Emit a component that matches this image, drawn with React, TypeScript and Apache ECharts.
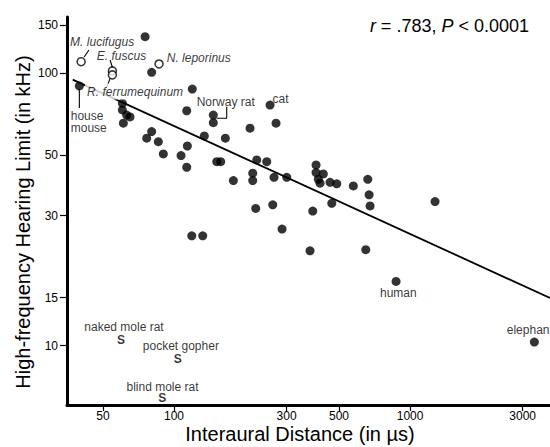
import React, { useEffect, useRef } from "react";
import * as echarts from "echarts";

// axis ticks (µs on x, kHz on y)
const X_TICKS = [50, 100, 300, 500, 1000, 3000];
const Y_TICKS = [10, 15, 30, 50, 100, 150];
const X_RANGE = [35.2, 3917];
const Y_RANGE = [6.05, 161.1];

// unlabelled terrestrial mammals: interaural distance (µs) / high-frequency limit (kHz)
const otherX = [75.4, 80.4, 119.5, 60.4, 60.4, 63.0, 65.1, 61.0, 113.2, 209.9, 134.4, 165.0, 76.6, 80.4, 85.8, 113.9, 90.1, 107.1, 270.5, 113.2, 151.7, 157.7, 178.4, 215.5, 215.5, 224.1, 247.1, 265.3, 221.9, 262.0, 286.9, 118.9, 132.3, 300.3, 399.7, 399.7, 429.1, 408.7, 415.6, 458.2, 489.2, 575.1, 662.0, 670.6, 677.1, 465.9, 387.0, 376.9, 649.2, 1276];
const otherY = [136.4, 100.9, 87.6, 77.6, 73.4, 70.3, 69.2, 65.6, 72.9, 62.9, 58.9, 57.8, 57.8, 61.1, 56.1, 54.1, 50.6, 49.9, 65.6, 45.2, 47.4, 47.4, 40.4, 43.0, 40.4, 48.1, 47.4, 41.5, 31.9, 32.9, 26.8, 25.3, 25.3, 41.5, 46.1, 43.2, 42.7, 40.8, 39.5, 39.8, 39.3, 38.6, 40.8, 35.8, 32.6, 33.3, 31.2, 22.3, 22.5, 33.8];

// labelled terrestrial mammals
const namedNames = ["house\nmouse", "Norway rat", "", "cat", "human", "elephant"];
const namedX = [39.7, 146.7, 146.7, 255.2, 872.5, 3363];
const namedY = [89.9, 70.3, 65.9, 76.5, 17.2, 10.3];

// bats (open circles)
const batNames = ["M. lucifugus", "E. fuscus", "R. ferrumequinum", "N. leporinus"];
const batX = [40.4, 54.8, 54.8, 86.4];
const batY = [110.4, 102.1, 98.7, 108.3];

// subterranean mammals (S)
const subNames = ["naked mole rat", "pocket gopher", "blind mole rat"];
const subX = [59.6, 103.7, 89.2];
const subY = [10.5, 8.9, 6.4];

// regression line endpoints
const fitX = [37.2, 3917];
const fitY = [94.9, 14.96];

// leader lines (µs, kHz)
const leaderLines = [
  [[41.6, 114.9], [43.6, 121.9]],
  [[54.9, 104.7], [53.6, 112.0]],
  [[53.6, 95.9], [51.9, 88.9]],
  [[39.7, 87.6], [39.7, 74.6]],
  [[151.7, 68.4], [167.2, 68.4], [167.2, 75.4]],
];

const FONT = "Liberation Sans, Arial, Helvetica, sans-serif";
const lg = (v: number) => Math.log10(v);
const pt = (x: number, y: number) => [lg(x), lg(y)];
const fmt = (v: number) => String(Math.round(Math.pow(10, v)));

// label placement: [align, dx, dy]
const namedLabelPos: any[] = [
  ["left", -8.6, 36.5],
  ["left", -16.6, -13.3],
  null,
  ["left", 2.5, -6],
  ["center", 2.3, 11.6],
  ["left", -27.6, -11.7],
];
const batLabelPos: any[] = [
  ["left", -11, -19.2],
  ["left", -15.6, -15],
  ["left", -27.3, 16.7],
  ["left", 7.7, -5.7],
];
const subLabelPos: any[] = [
  [3, -13.3],
  [3.1, -13.6],
  [0.2, -11.6],
];

export default function App() {
  const ref = useRef<HTMLDivElement>(null);
  useEffect(() => {
    if (!ref.current) return;
    const chart = echarts.init(ref.current, null, { renderer: "svg" });

    const baseLabel = {
      show: true,
      position: "inside",
      verticalAlign: "middle",
      color: "#000",
      fontFamily: FONT,
      fontSize: 12,
      lineHeight: 12,
    };

    const otherData = otherX.map((x, i) => pt(x, otherY[i]));
    const namedData = namedX.map((x, i) => {
      const p = namedLabelPos[i];
      return {
        value: pt(x, namedY[i]),
        label: p
          ? { ...baseLabel, formatter: namedNames[i], align: p[0], offset: [p[1], p[2]] }
          : { show: false },
      };
    });
    const batData = batX.map((x, i) => {
      const p = batLabelPos[i];
      return {
        value: pt(x, batY[i]),
        label: {
          ...baseLabel,
          formatter: batNames[i],
          align: p[0],
          offset: [p[1], p[2]],
          fontStyle: "italic",
          backgroundColor: i === 2 ? "#fff" : "transparent",
          padding: i === 2 ? [3, 2, 1, 2] : 0,
        },
      };
    });
    const subData = subX.map((x, i) => ({ value: pt(x, subY[i]) }));
    const subNameData = subX.map((x, i) => ({
      value: pt(x, subY[i]),
      label: {
        ...baseLabel,
        formatter: subNames[i],
        align: "center",
        offset: subLabelPos[i],
      },
    }));

    const leaderSeries = leaderLines.map((seg) => ({
      type: "line",
      data: seg.map((p) => pt(p[0], p[1])),
      symbol: "none",
      lineStyle: { color: "#000", width: 1.1 },
      z: 3,
      silent: true,
    }));

    chart.setOption({
      animation: false,
      backgroundColor: "#fff",
      grid: {
        left: 67,
        right: 0,
        top: 17,
        bottom: 42,
        containLabel: false,
        outerBoundsMode: "none",
      },
      xAxis: {
        type: "value",
        min: lg(X_RANGE[0]),
        max: lg(X_RANGE[1]),
        name: "Interaural Distance (in µs)",
        nameLocation: "middle",
        nameGap: 19,
        nameMoveOverlap: false,
        nameTextStyle: { color: "#000", fontSize: 20, fontFamily: FONT, padding: [0, 17, 0, 0] },
        axisLine: { show: true, onZero: false, lineStyle: { color: "#000", width: 3 } },
        axisTick: { show: true, length: 6, customValues: X_TICKS.map(lg), lineStyle: { color: "#000", width: 1.2 } },
        axisLabel: { customValues: X_TICKS.map(lg), formatter: fmt, color: "#000", fontSize: 12, fontFamily: FONT, margin: 5 },
        splitLine: { show: false },
      },
      yAxis: {
        type: "value",
        min: lg(Y_RANGE[0]),
        max: lg(Y_RANGE[1]),
        axisLine: { show: true, onZero: false, lineStyle: { color: "#000", width: 3 } },
        axisTick: { show: true, length: 7, customValues: Y_TICKS.map(lg), lineStyle: { color: "#000", width: 1.2 } },
        axisLabel: { customValues: Y_TICKS.map(lg), formatter: fmt, color: "#000", fontSize: 12, fontFamily: FONT, margin: 9 },
        splitLine: { show: false },
      },
      graphic: [
        {
          type: "text",
          x: 23,
          y: 222,
          rotation: Math.PI / 2,
          style: {
            text: "High-frequency Hearing Limit (in kHz)",
            fill: "#000",
            fontSize: 20,
            fontFamily: FONT,
            align: "center",
            verticalAlign: "middle",
          },
        },
        {
          type: "text",
          right: 21,
          top: 17,
          style: {
            text: "{i|r} = .783, {i|P} < 0.0001",
            fill: "#000",
            fontSize: 18,
            fontFamily: FONT,
            rich: { i: { fontStyle: "italic", fontSize: 18, fontFamily: FONT, fill: "#000" } },
          },
        },
      ],
      series: [
        {
          type: "line",
          name: "fit",
          data: fitX.map((x, i) => pt(x, fitY[i])),
          symbol: "none",
          lineStyle: { color: "#000", width: 1.8 },
          z: 1,
          silent: true,
        },
        {
          type: "scatter",
          name: "mammals",
          data: otherData,
          symbol: "circle",
          symbolSize: 9,
          itemStyle: { color: "#000" },
          z: 4,
        },
        {
          type: "scatter",
          name: "named",
          data: namedData,
          symbol: "circle",
          symbolSize: 9,
          itemStyle: { color: "#000" },
          z: 4,
        },
        {
          type: "scatter",
          name: "bats",
          data: batData,
          symbol: "circle",
          symbolSize: 8,
          itemStyle: { color: "#fff", borderColor: "#000", borderWidth: 1.5 },
          z: 5,
        },
        {
          type: "scatter",
          name: "subterranean",
          data: subData,
          symbol: "circle",
          symbolSize: 1,
          itemStyle: { color: "rgba(0,0,0,0)" },
          label: {
            show: true,
            position: "inside",
            formatter: "S",
            color: "#000",
            fontFamily: FONT,
            fontSize: 12,
            fontWeight: "bold",
          },
          z: 4,
        },
        {
          type: "scatter",
          name: "subterranean names",
          data: subNameData,
          symbol: "circle",
          symbolSize: 1,
          itemStyle: { color: "rgba(0,0,0,0)" },
          z: 4,
        },
        ...leaderSeries,
      ],
    } as any);
    return () => chart.dispose();
  }, []);
  return (
    <div
      ref={ref}
      style={{ position: "fixed", left: 0, top: 0, width: 550, height: 447, background: "#fff" }}
    />
  );
}
